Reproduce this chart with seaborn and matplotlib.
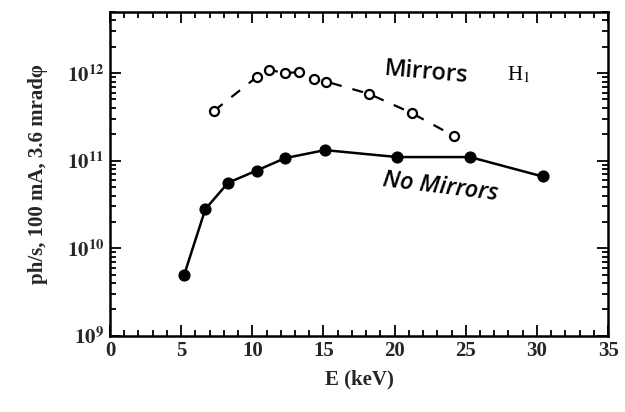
import matplotlib
matplotlib.use("Agg")
import matplotlib.pyplot as plt
import matplotlib.ticker as mticker
import numpy as np
import pandas as pd
import seaborn as sns

# ---- data ----
energy_no_mirrors = [5.2, 6.7, 8.3, 10.3, 12.3, 15.1, 20.2, 25.3, 30.4]
flux_no_mirrors = [4.9e9, 2.8e10, 5.6e10, 7.7e10, 1.07e11, 1.32e11, 1.10e11, 1.10e11, 6.6e10]

energy_mirrors = [7.3, 10.3, 11.2, 12.3, 13.3, 14.3, 15.2, 18.2, 21.2, 24.2]
flux_mirrors = [3.7e11, 9.0e11, 1.09e12, 1.0e12, 1.03e12, 8.5e11, 8.0e11, 5.8e11, 3.5e11, 1.9e11]

x_ticks = [0, 5, 10, 15, 20, 25, 30, 35]
y_ticks = [1e9, 1e10, 1e11, 1e12]
y_tick_labels = [r"$\mathbf{10}^{\mathbf{9}}$", r"$\mathbf{10}^{\mathbf{10}}$",
                 r"$\mathbf{10}^{\mathbf{11}}$", r"$\mathbf{10}^{\mathbf{12}}$"]

sns.set_theme(style="ticks")
plt.rcParams["font.family"] = ["Liberation Serif", "DejaVu Serif"]
plt.rcParams["mathtext.fontset"] = "stix"

fig = plt.figure(figsize=(6.25, 4.12), dpi=100)
ax = fig.add_axes([0.176, 0.185, 0.797, 0.786])

df_no = pd.DataFrame({"E": energy_no_mirrors, "F": flux_no_mirrors})
df_m = pd.DataFrame({"E": energy_mirrors, "F": flux_mirrors})

sns.lineplot(data=df_no, x="E", y="F", ax=ax, color="black", linewidth=1.8,
             marker="o", markersize=8, markerfacecolor="black",
             markeredgecolor="black", sort=False)
sns.lineplot(data=df_m, x="E", y="F", ax=ax, color="black", linewidth=1.6,
             linestyle=(0, (5, 5)), marker="o", markersize=6.5,
             markerfacecolor="white", markeredgecolor="black",
             markeredgewidth=1.6, sort=False)

ax.set_yscale("log")
ax.set_xlim(0, 35)
ax.set_ylim(1e9, 5e12)
ax.set_xticks(x_ticks)
ax.set_xticklabels([str(t) for t in x_ticks])
ax.set_yticks(y_ticks)
ax.set_yticklabels(y_tick_labels)
ax.xaxis.set_minor_locator(mticker.MultipleLocator(1))
ax.yaxis.set_minor_locator(mticker.LogLocator(base=10, subs=np.arange(2, 10)))
ax.yaxis.set_minor_formatter(mticker.NullFormatter())

ax.tick_params(which="both", direction="in", top=True, right=True,
               color="black", width=1.3)
ax.tick_params(which="major", length=8, labelsize=15, pad=4)
ax.tick_params(which="minor", length=4)
for s in ax.spines.values():
    s.set_linewidth(1.8)
    s.set_color("black")

ax.set_xlabel("E (keV)", fontsize=15, fontweight="bold", labelpad=6)
ax.set_ylabel("ph/s, 100 mA, 3.6 mradφ", fontsize=15, fontweight="bold", labelpad=14)
for lab in ax.get_xticklabels() + ax.get_yticklabels():
    lab.set_fontweight("bold")

hand = ["Open Sans", "DejaVu Sans"]
ax.text(22.2, 1.0e12, "Mirrors", fontsize=17, family=hand, rotation=-5,
        fontweight="semibold", ha="center", va="center", color="black")
ax.text(23.2, 5.0e10, "No Mirrors", fontsize=17, family=hand, rotation=-7,
        style="italic", fontweight="semibold", ha="center", va="center",
        color="black")
ax.text(28.7, 9.6e11, r"H$_1$", fontsize=15, ha="center", va="center",
        color="black")

fig.savefig("out.png", dpi=100)
